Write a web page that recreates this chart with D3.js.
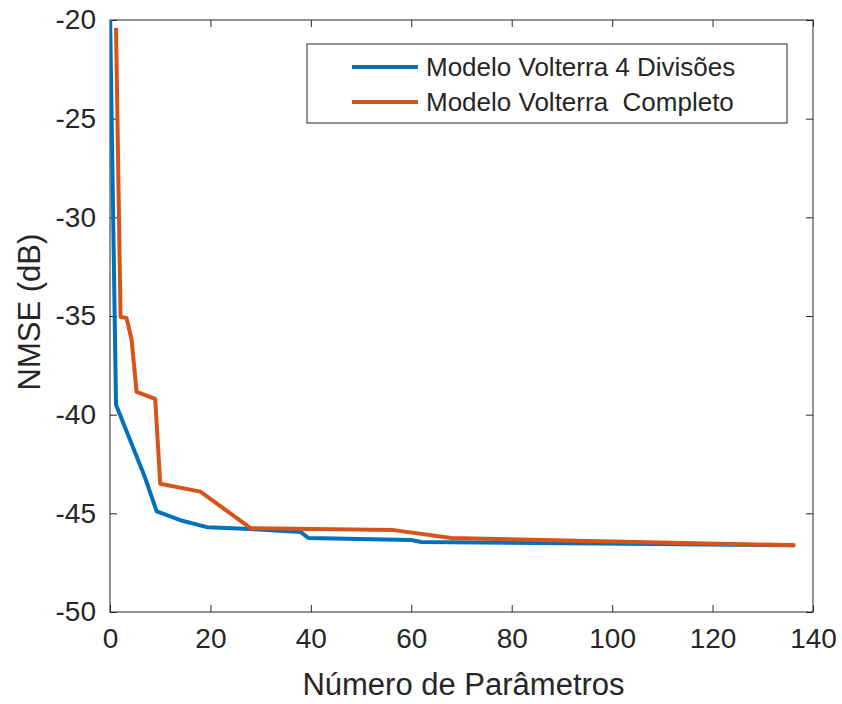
<!DOCTYPE html>
<html>
<head>
<meta charset="utf-8">
<script src="https://cdn.jsdelivr.net/npm/d3@7"></script>
<style>
  body { margin: 0; background: #fff; }
  svg { font-family: 'Liberation Sans', Arial, sans-serif; }
</style>
</head>
<body>
<svg id="chart" width="842" height="704"></svg>
<script>
'use strict'

// series: number of parameters vs NMSE (dB)
const blueX = [0, 1.2, 7.0, 7.6, 9.3, 14, 19.3, 28, 38, 39.5, 60, 62, 136]
const blueY = [-19.5, -39.5, -43.2, -43.65, -44.9, -45.35, -45.7, -45.8, -45.95, -46.25, -46.35, -46.45, -46.62]
const orangeX = [1.2, 2.1, 3.3, 4.3, 5.3, 9.0, 10, 18, 28, 56.5, 68, 136.5]
const orangeY = [-20.4, -35.05, -35.1, -36.2, -38.85, -39.2, -43.5, -43.9, -45.75, -45.85, -46.25, -46.62]
const seriesNames = ['Modelo Volterra 4 Divisões', 'Modelo Volterra  Completo']
const xTicks = [0, 20, 40, 60, 80, 100, 120, 140]
const yTicks = [-50, -45, -40, -35, -30, -25, -20]

const colors = ['#0072BD', '#D95319']
const textColor = '#262626'
const margin = { top: 20, right: 29, bottom: 92, left: 110 }
const width = 842 - margin.left - margin.right
const height = 704 - margin.top - margin.bottom

const svg = d3.select('#chart')
const g = svg.append('g').attr('transform', `translate(${margin.left},${margin.top})`)

const x = d3.scaleLinear().domain([0, 140]).range([0, width])
const y = d3.scaleLinear().domain([-50, -20]).range([height, 0])

g.append('clipPath').attr('id', 'clip')
  .append('rect').attr('width', width).attr('height', height)

// axes with inward ticks (box on), plain hyphen minus like MATLAB
const tickLen = 7
const fmt = (d) => String(d)
const styleAxis = (sel) => {
  sel.select('.domain').remove()
  sel.selectAll('line').attr('stroke', textColor).attr('stroke-width', 1)
  sel.selectAll('text').attr('fill', textColor).attr('font-size', 28)
}

g.append('g').attr('transform', `translate(0,${height})`)
  .call(d3.axisBottom(x).tickValues(xTicks).tickSize(-tickLen).tickPadding(16).tickFormat(fmt))
  .call(styleAxis)
g.append('g')
  .call(d3.axisTop(x).tickValues(xTicks).tickSize(-tickLen).tickFormat(''))
  .call(styleAxis)
g.append('g')
  .call(d3.axisLeft(y).tickValues(yTicks).tickSize(-tickLen).tickPadding(14).tickFormat(fmt))
  .call(styleAxis)
g.append('g').attr('transform', `translate(${width},0)`)
  .call(d3.axisRight(y).tickValues(yTicks).tickSize(-tickLen).tickFormat(''))
  .call(styleAxis)

g.append('rect')
  .attr('width', width).attr('height', height)
  .attr('fill', 'none').attr('stroke', textColor).attr('stroke-width', 1)

const line = d3.line().x((d) => x(d[0])).y((d) => y(d[1]))
const series = [d3.zip(blueX, blueY), d3.zip(orangeX, orangeY)]

g.append('g').attr('clip-path', 'url(#clip)')
  .selectAll('path')
  .data(series)
  .enter()
  .append('path')
  .attr('d', line)
  .attr('fill', 'none')
  .attr('stroke', (d, i) => colors[i])
  .attr('stroke-width', 4)
  .attr('stroke-linejoin', 'round')

// axis labels
svg.append('text')
  .attr('x', margin.left + width / 2 + 2).attr('y', 695)
  .attr('text-anchor', 'middle').attr('font-size', 31).attr('fill', textColor)
  .text('Número de Parâmetros')
svg.append('text')
  .attr('transform', `translate(40,${margin.top + height / 2 - 4}) rotate(-90)`)
  .attr('text-anchor', 'middle').attr('font-size', 31).attr('fill', textColor)
  .text('NMSE (dB)')

// legend
const legend = svg.append('g')
legend.append('rect')
  .attr('x', 307).attr('y', 44).attr('width', 480).attr('height', 79)
  .attr('fill', '#fff').attr('stroke', textColor).attr('stroke-width', 1)
seriesNames.forEach((name, i) => {
  const ly = 67 + i * 35
  legend.append('line')
    .attr('x1', 352).attr('x2', 418).attr('y1', ly).attr('y2', ly)
    .attr('stroke', colors[i]).attr('stroke-width', 4)
  legend.append('text')
    .attr('x', 426).attr('y', ly).attr('dy', '0.36em')
    .attr('font-size', 26).attr('fill', textColor)
    .style('white-space', 'pre')
    .text(name)
})
</script>
</body>
</html>
